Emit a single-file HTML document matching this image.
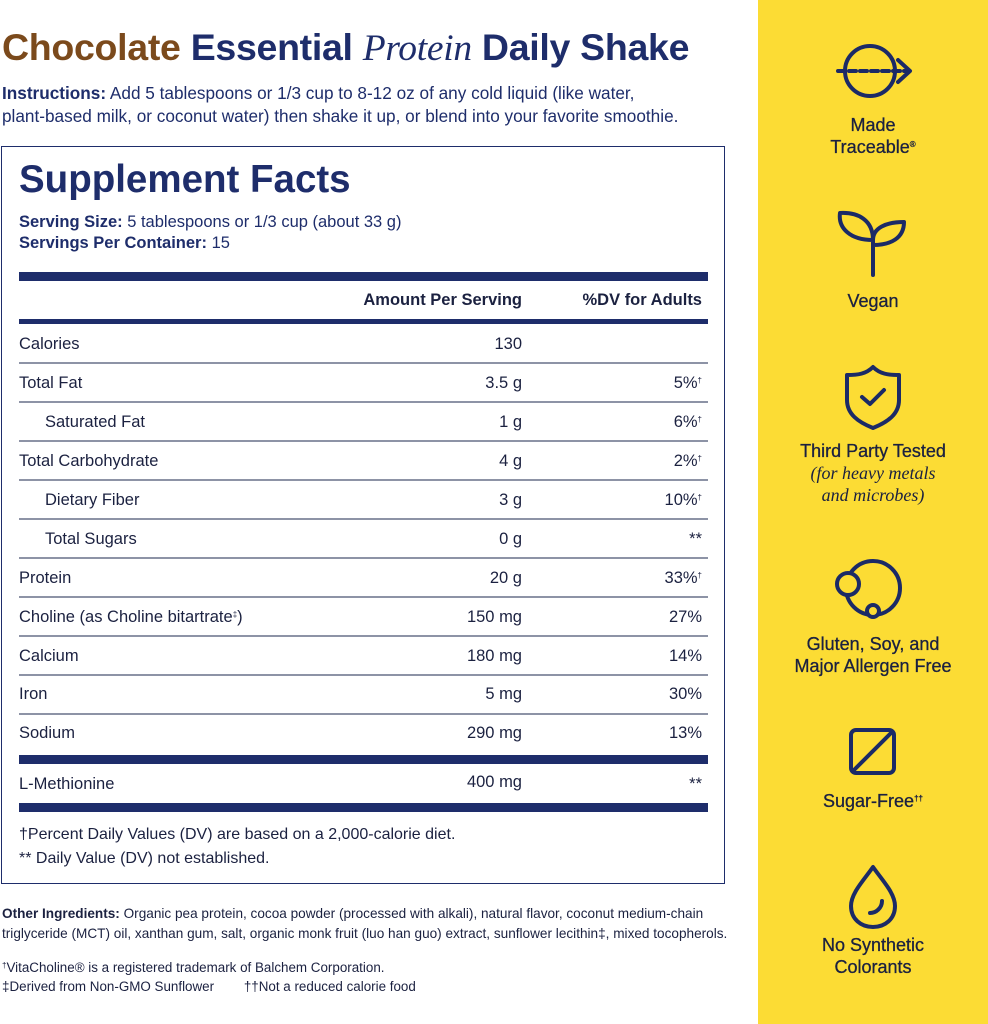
<!DOCTYPE html>
<html><head><meta charset="utf-8"><style>
*{margin:0;padding:0;box-sizing:border-box}
body{width:988px;height:1024px;background:#fff;position:relative;overflow:hidden;font-family:"Liberation Sans",sans-serif;color:#1b2140}
.a{position:absolute;white-space:nowrap}
.r{position:absolute;height:22px;line-height:22px;font-size:16.5px}
.n{left:19px}.m{right:466px;text-align:right}.d{right:286px;text-align:right}
.ln{position:absolute;left:19px;width:689px;height:2px;background:#8d93a6}
.bar{position:absolute;left:19px;width:689px;background:#1e2d6b}
.side{position:absolute;left:758px;top:0;width:230px;height:1024px;background:#fcdc34}
.lab{position:absolute;left:758px;width:230px;text-align:center;font-size:18px;line-height:22px;color:#1b2140;-webkit-text-stroke:0.3px #1b2140}
sup{font-size:8px;vertical-align:top;position:relative;top:-2px}
</style></head><body>
<div class="a" style="left:2px;top:26px;font-size:37.5px;font-weight:bold;color:#1e2d6b;letter-spacing:-0.3px"><span style="color:#7b4a1c">Chocolate</span> Essential <span style="font-family:'Liberation Serif',serif;font-style:italic;font-weight:normal">Protein</span> Daily Shake</div>
<div class="a" style="left:2px;top:82px;font-size:17.2px;line-height:23px;color:#1e2d6b"><b>Instructions:</b> Add 5 tablespoons or 1/3 cup to 8-12 oz of any cold liquid (like water,<br>plant-based milk, or coconut water) then shake it up, or blend into your favorite smoothie.</div>
<div class="a" style="left:1px;top:146px;width:724px;height:738px;border:1.5px solid #1e2d6b"></div>
<div class="a" style="left:19px;top:158px;font-size:38.5px;font-weight:bold;color:#1e2d6b">Supplement Facts</div>
<div class="a" style="left:19px;top:212px;font-size:16.5px;line-height:21px;color:#1e2d6b"><b>Serving Size:</b> 5 tablespoons or 1/3 cup (about 33 g)<br><b>Servings Per Container:</b> 15</div>
<div class="bar" style="top:272px;height:9px"></div>
<div class="r m" style="top:289px;font-weight:bold">Amount Per Serving</div>
<div class="r d" style="top:289px;font-weight:bold">%DV for Adults</div>
<div class="bar" style="top:319px;height:5px"></div>
<div class="r n" style="top:333px">Calories</div><div class="r m" style="top:333px">130</div>
<div class="ln" style="top:362px"></div>
<div class="r n" style="top:372px">Total Fat</div><div class="r m" style="top:372px">3.5 g</div><div class="r d" style="top:372px">5%<sup>†</sup></div>
<div class="ln" style="top:401px"></div>
<div class="r n" style="top:411px;left:45px">Saturated Fat</div><div class="r m" style="top:411px">1 g</div><div class="r d" style="top:411px">6%<sup>†</sup></div>
<div class="ln" style="top:440px"></div>
<div class="r n" style="top:450px">Total Carbohydrate</div><div class="r m" style="top:450px">4 g</div><div class="r d" style="top:450px">2%<sup>†</sup></div>
<div class="ln" style="top:479px"></div>
<div class="r n" style="top:489px;left:45px">Dietary Fiber</div><div class="r m" style="top:489px">3 g</div><div class="r d" style="top:489px">10%<sup>†</sup></div>
<div class="ln" style="top:518px"></div>
<div class="r n" style="top:528px;left:45px">Total Sugars</div><div class="r m" style="top:528px">0 g</div><div class="r d" style="top:528px">**</div>
<div class="ln" style="top:557px"></div>
<div class="r n" style="top:567px">Protein</div><div class="r m" style="top:567px">20 g</div><div class="r d" style="top:567px">33%<sup>†</sup></div>
<div class="ln" style="top:596px"></div>
<div class="r n" style="top:606px">Choline (as Choline bitartrate<sup>‡</sup>)</div><div class="r m" style="top:606px">150 mg</div><div class="r d" style="top:606px">27%</div>
<div class="ln" style="top:635px"></div>
<div class="r n" style="top:645px">Calcium</div><div class="r m" style="top:645px">180 mg</div><div class="r d" style="top:645px">14%</div>
<div class="ln" style="top:674px"></div>
<div class="r n" style="top:683px">Iron</div><div class="r m" style="top:683px">5 mg</div><div class="r d" style="top:683px">30%</div>
<div class="ln" style="top:713px"></div>
<div class="r n" style="top:722px">Sodium</div><div class="r m" style="top:722px">290 mg</div><div class="r d" style="top:722px">13%</div>
<div class="bar" style="top:755px;height:9px"></div>
<div class="r n" style="top:773px">L-Methionine</div><div class="r m" style="top:771px">400 mg</div><div class="r d" style="top:773px">**</div>
<div class="bar" style="top:803px;height:9px"></div>
<div class="a" style="left:19px;top:823px;font-size:16px;line-height:24px">†Percent Daily Values (DV) are based on a 2,000-calorie diet.<br>** Daily Value (DV) not established.</div>
<div class="a" style="left:2px;top:904px;font-size:13.6px;line-height:20px"><b>Other Ingredients:</b> Organic pea protein, cocoa powder (processed with alkali), natural flavor, coconut medium-chain<br>triglyceride (MCT) oil, xanthan gum, salt, organic monk fruit (luo han guo) extract, sunflower lecithin‡, mixed tocopherols.</div>
<div class="a" style="left:2px;top:958px;font-size:13.4px;line-height:19px"><sup>†</sup>VitaCholine® is a registered trademark of Balchem Corporation.<br>‡Derived from Non-GMO Sunflower &nbsp;&nbsp;&nbsp;&nbsp;&nbsp;&nbsp;&nbsp;††Not a reduced calorie food</div>
<div class="side"></div>
<svg class="a" style="left:758px;top:0" width="230" height="1024" fill="none" stroke="#1b2a66" stroke-width="4" stroke-linecap="round" stroke-linejoin="round">
<circle cx="112" cy="71" r="25"/><line x1="80" y1="71" x2="150" y2="71" stroke-dasharray="7 4"/><polyline points="140,60 152,71 140,82"/>
<path d="M115,275 V240 C115,220 100,212 82,213 C80,228 92,240 115,240 M115,240 C115,228 128,222 146,222 C146,238 133,245 115,245"/>
<path d="M115,367 C108,374 100,375 89,375 V400 C89,414 100,422 115,428 C130,422 141,414 141,400 V375 C130,375 122,374 115,367Z"/><polyline points="104,397 112,404 126,390"/>
<circle cx="115" cy="588" r="27"/><circle cx="90" cy="584" r="11" fill="#fcdc34"/><circle cx="115" cy="611" r="6" fill="#fcdc34"/>
<rect x="93" y="730" width="43" height="43" rx="5"/><line x1="96" y1="770" x2="133" y2="733"/>
<path d="M115,867 C106,880 93,893 93,906 C93,919 103,927 115,927 C127,927 137,919 137,906 C137,893 124,880 115,867Z"/><path d="M112,913 C118,913 124,908 124,901"/>
</svg>
<div class="lab" style="top:114px">Made<br>Traceable<sup>®</sup></div>
<div class="lab" style="top:290px">Vegan</div>
<div class="lab" style="top:440px">Third Party Tested<br><span style="font-family:'Liberation Serif',serif;font-style:italic;-webkit-text-stroke:0">(for heavy metals<br>and microbes)</span></div>
<div class="lab" style="top:633px">Gluten, Soy, and<br>Major Allergen Free</div>
<div class="lab" style="top:790px">Sugar-Free<sup>††</sup></div>
<div class="lab" style="top:934px">No Synthetic<br>Colorants</div>
</body></html>
